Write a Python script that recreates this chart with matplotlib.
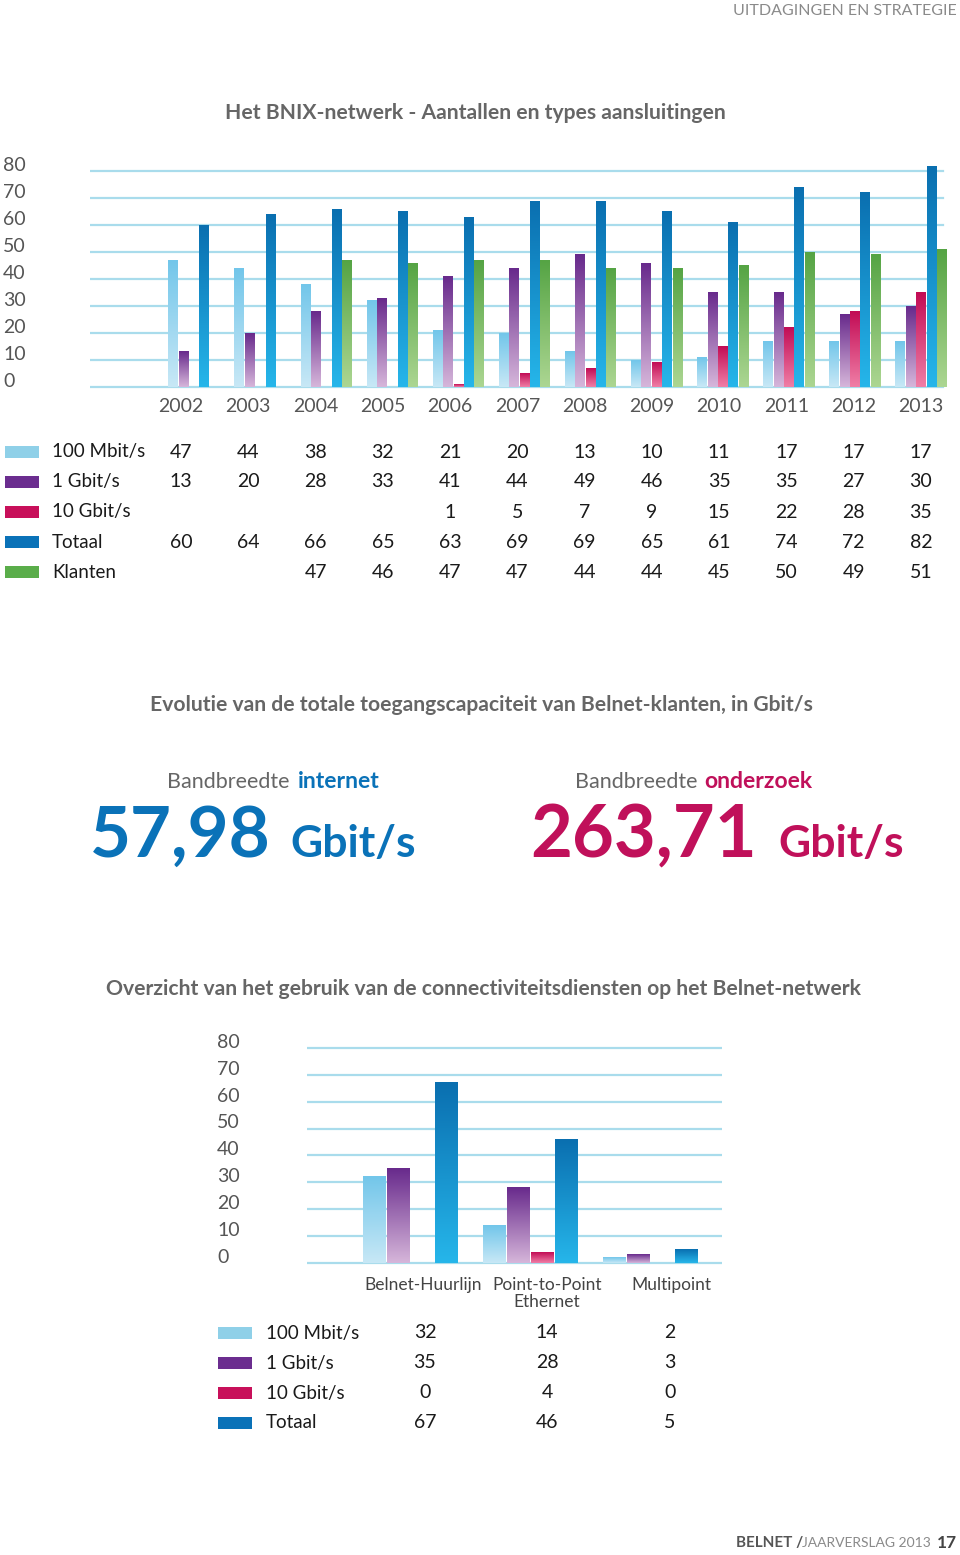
import numpy as np
import matplotlib.pyplot as plt
from matplotlib.colors import to_rgb
from matplotlib.patches import Rectangle

plt.rcParams['font.family'] = ['Lato', 'DejaVu Sans']

# --- data: BNIX network ---
years = ['2002', '2003', '2004', '2005', '2006', '2007',
         '2008', '2009', '2010', '2011', '2012', '2013']
mbit100 = [47, 44, 38, 32, 21, 20, 13, 10, 11, 17, 17, 17]
gbit1 = [13, 20, 28, 33, 41, 44, 49, 46, 35, 35, 27, 30]
gbit10 = [None, None, None, None, 1, 5, 7, 9, 15, 22, 28, 35]
totaal = [60, 64, 66, 65, 63, 69, 69, 65, 61, 74, 72, 82]
klanten = [None, None, 47, 46, 47, 47, 44, 44, 45, 50, 49, 51]
series_names = ['100 Mbit/s', '1 Gbit/s', '10 Gbit/s', 'Totaal', 'Klanten']

# --- data: bandwidth ---
bw_internet = '57,98'
bw_onderzoek = '263,71'

# --- data: connectivity services ---
services = ['Belnet-Huurlijn', 'Point-to-Point\nEthernet', 'Multipoint']
svc_100m = [32, 14, 2]
svc_1g = [35, 28, 3]
svc_10g = [0, 4, 0]
svc_totaal = [67, 46, 5]

yticks = list(range(0, 90, 10))

# colours: (swatch, top of gradient, bottom of gradient)
C_LB = ('#8fd0e8', '#72c6ea', '#c8e8f6')
C_PU = ('#6b2d8f', '#682a8c', '#d6b6da')
C_RD = ('#c8105a', '#c20c55', '#f07ea6')
C_BL = ('#0a72b8', '#0a6fb0', '#26b6ea')
C_GR = ('#5aad4a', '#55a444', '#acd692')
GRID = '#a9dcec'
BLUE = '#0a72b8'
RED = '#c0105a'
GREY = '#555555'

W, H = 960, 1555
fig = plt.figure(figsize=(W / 100, H / 100), dpi=100)


def fx(px):
    return px / W


def fy(py):
    return 1 - py / H


def axes_px(left, top, right, bottom):
    return fig.add_axes([fx(left), fy(bottom), (right - left) / W, (bottom - top) / H])


def grad_bar(ax, x, h, w, col):
    if h is None or h <= 0:
        return
    t = np.linspace(0, 1, 128)[:, None]
    top, bot = np.array(to_rgb(col[1])), np.array(to_rgb(col[2]))
    img = (bot + (top - bot) * t)[:, None, :]
    ax.imshow(img, extent=(x - w / 2, x + w / 2, 0, h), origin='lower',
              aspect='auto', interpolation='bilinear', zorder=3)


def bar_chart(ax, series, colors, step, width, xlim, grid_end, label_x):
    ax.set_axis_off()
    n = len(series)
    for k, (vals, col) in enumerate(zip(series, colors)):
        for i, v in enumerate(vals):
            grad_bar(ax, i + (k - (n - 1) / 2) * step, v, width, col)
    for v in yticks:
        ax.axhline(v, xmin=0, xmax=grid_end, color=GRID, lw=1.6, zorder=1)
        ax.text(label_x, v, str(v), transform=ax.get_yaxis_transform(),
                ha='left', va='baseline', fontsize=14, color=GREY)
    ax.set_xlim(*xlim)
    ax.set_ylim(-1, 84)


def table(rows, colors, values, cols_px, row0, dy, sw_x, lab_x):
    for r, (name, col, vals) in enumerate(zip(rows, colors, values)):
        y = row0 + r * dy
        fig.add_artist(Rectangle((fx(sw_x), fy(y + 6)), 34 / W, 12 / H,
                                 transform=fig.transFigure, color=col[0], lw=0))
        fig.text(fx(lab_x), fy(y), name, ha='left', va='center',
                 fontsize=13.5, color='#1a1a1a')
        for cx, v in zip(cols_px, vals):
            if v is not None:
                fig.text(fx(cx), fy(y), str(v), ha='center', va='center',
                         fontsize=14, color='#1a1a1a')


# header
fig.text(fx(957), fy(11), 'UITDAGINGEN EN STRATEGIE', ha='right', va='center',
         fontsize=11.5, color='#8a8a8a')

# ---------------- chart 1 ----------------
fig.text(fx(475), fy(113), 'Het BNIX-netwerk - Aantallen en types aansluitingen',
         ha='center', va='center', fontsize=15.2, color='#666666', fontweight='bold')
scale1 = 2.695
ax1 = axes_px(90, 387 - 84 * scale1, 947, 387 + scale1)
bar_chart(ax1, [mbit100, gbit1, gbit10, totaal, klanten],
          [C_LB, C_PU, C_RD, C_BL, C_GR], step=0.157, width=0.148,
          xlim=((90 - 194) / 66.1, (947 - 194) / 66.1),
          grid_end=(943 - 90) / (947 - 90), label_x=(3 - 90) / (947 - 90))

cols1 = np.linspace(181, 921, len(years))
for cx, yr in zip(cols1, years):
    fig.text(fx(cx), fy(407), yr, ha='center', va='center', fontsize=14,
             color=GREY)
table(series_names, [C_LB, C_PU, C_RD, C_BL, C_GR],
      [mbit100, gbit1, gbit10, totaal, klanten], cols1, 452, 30, 5, 52)

# ---------------- bandwidth ----------------
fig.text(fx(481), fy(705),
         'Evolutie van de totale toegangscapaciteit van Belnet-klanten, in Gbit/s',
         ha='center', va='center', fontsize=15.2, color='#666666', fontweight='bold')

fig.text(fx(167), fy(782), 'Bandbreedte', ha='left', va='center', fontsize=15.5,
         color='#666666')
fig.text(fx(298), fy(782), 'internet', ha='left', va='center', fontsize=16.5,
         color=BLUE, fontweight='bold')
fig.text(fx(575), fy(782), 'Bandbreedte', ha='left', va='center', fontsize=15.5,
         color='#666666')
fig.text(fx(704), fy(782), 'onderzoek', ha='left', va='center', fontsize=16.5,
         color=RED, fontweight='bold')

fig.text(fx(90), fy(857), bw_internet, ha='left', va='baseline', fontsize=51,
         color=BLUE, fontweight='bold')
fig.text(fx(290), fy(857), 'Gbit/s', ha='left', va='baseline', fontsize=32,
         color=BLUE, fontweight='bold')
fig.text(fx(530), fy(857), bw_onderzoek, ha='left', va='baseline', fontsize=52,
         color=RED, fontweight='bold')
fig.text(fx(778), fy(857), 'Gbit/s', ha='left', va='baseline', fontsize=32,
         color=RED, fontweight='bold')

# ---------------- chart 2 ----------------
fig.text(fx(483), fy(989),
         'Overzicht van het gebruik van de connectiviteitsdiensten op het Belnet-netwerk',
         ha='center', va='center', fontsize=15.2, color='#666666', fontweight='bold')
scale2 = 2.69
ax2 = axes_px(307, 1263 - 84 * scale2, 722, 1263 + scale2)
bar_chart(ax2, [svc_100m, svc_1g, svc_10g, svc_totaal],
          [C_LB, C_PU, C_RD, C_BL], step=0.2, width=0.186,
          xlim=((307 - 410) / 120, (722 - 410) / 120),
          grid_end=1.0, label_x=(217 - 307) / (722 - 307))

cols2 = [423, 547, 671]
for cx, s in zip(cols2, services):
    fig.text(fx(cx), fy(1277), s, ha='center', va='top', fontsize=12.5,
             color='#444444', linespacing=1.1)
table(series_names[:4], [C_LB, C_PU, C_RD, C_BL],
      [svc_100m, svc_1g, svc_10g, svc_totaal], [425, 547, 670], 1333, 30, 218, 266)

# footer
fig.text(fx(736), fy(1543), 'BELNET /', ha='left', va='center', fontsize=11,
         color='#555555', fontweight='bold')
fig.text(fx(802), fy(1543), 'JAARVERSLAG 2013', ha='left', va='center', fontsize=10,
         color='#8a8a8a')
fig.text(fx(957), fy(1543), '17', ha='right', va='center', fontsize=12.5,
         color='#444444', fontweight='bold')

fig.savefig('out.png', dpi=100)
